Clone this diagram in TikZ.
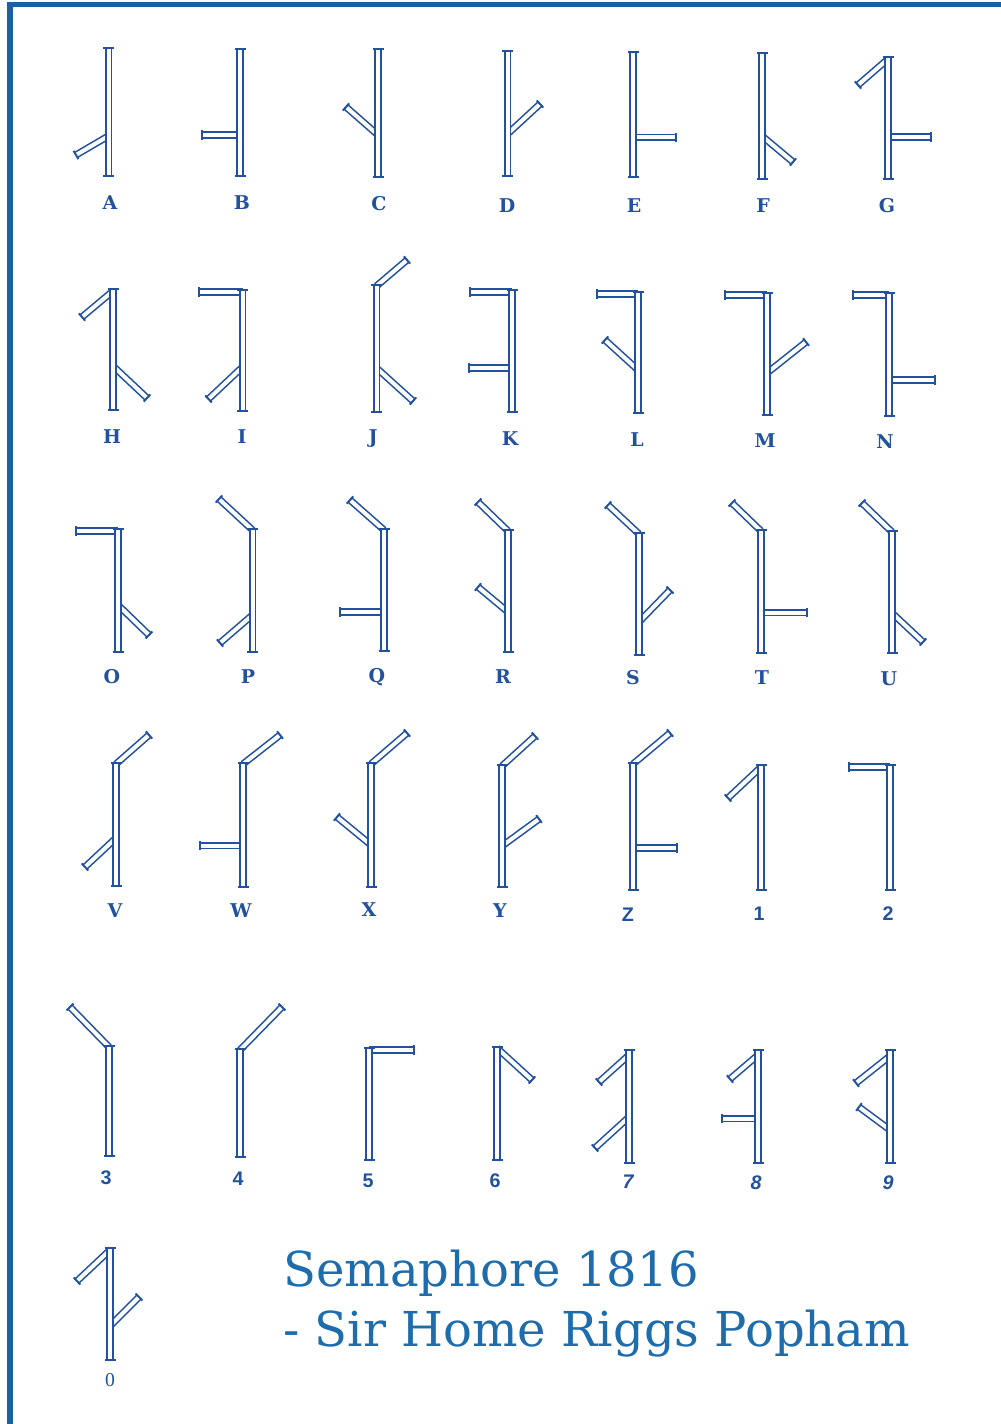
\documentclass[tikz,border=0pt]{standalone}
\usepackage{fontspec}
\setmainfont{DejaVu Serif}
\newfontfamily\digitfont{Liberation Sans}
\newfontfamily\zerofont{Liberation Serif}
\usetikzlibrary{calc}
\definecolor{ink}{RGB}{34,82,158}
\definecolor{titleblue}{RGB}{30,108,172}
\definecolor{framecol}{RGB}{28,96,160}
\tikzset{
  armline/.style={draw=ink, line width=0.04cm, double=white, double distance=0.1cm},
  armtick/.style={draw=ink, line width=0.05cm},
  lbl/.style={text=ink, font=\fontsize{13.5}{15}\selectfont\bfseries, inner sep=0pt},
  numlbl/.style={text=ink, font=\digitfont\fontsize{14}{16}\selectfont\bfseries, inner sep=0pt},
  itlbl/.style={text=ink, font=\digitfont\fontsize{14}{16}\selectfont\bfseries\itshape, inner sep=0pt},
  zerolbl/.style={text=ink, font=\zerofont\fontsize{14}{16}\selectfont, inner sep=0pt},
  titletext/.style={text=titleblue, font=\fontsize{34.2}{40}\selectfont, inner sep=0pt, anchor=base west},
}
\newcommand\semarm[2]{\draw[armline] #1 -- #2; \draw[armtick] ($#2!0.12cm!90:#1$) -- ($#2!0.12cm!-90:#1$);}
\newcommand\semmast[3]{\draw[armline] (#1,#3) -- (#1,#2); \draw[armtick] ({#1-5.5},#2) -- ({#1+5.5},#2); \draw[armtick] ({#1-5.5},#3) -- ({#1+5.5},#3);}
\begin{document}
\begin{tikzpicture}[x=0.025cm,y=-0.025cm]
\useasboundingbox (0,0) rectangle (1000,1424);
\fill[white] (0,0) rectangle (1000,1424);
\draw[framecol, line width=0.14cm, line cap=rect] (10,1424) -- (10,4.5) -- (1000,4.5);
% ---- Row 1 ----
\semarm{(108.5,136)}{(76,155)} \semmast{108.5}{48}{176} \node[lbl] (lA) at (110,203) {A};
\semarm{(240,135)}{(202,135)} \semmast{240}{49}{176} \node[lbl] (lB) at (242,203) {B};
\semarm{(378,135)}{(346,107)} \semmast{378}{49}{177} \node[lbl] (lC) at (379,204) {C};
\semarm{(507.5,134)}{(540,104)} \semmast{507.5}{51}{176} \node[lbl] (lD) at (507,206) {D};
\semarm{(633,137.5)}{(676,137.5)} \semmast{633}{52}{177} \node[lbl] (lE) at (634,206) {E};
\semarm{(762,136)}{(793,162)} \semmast{762}{53}{179} \node[lbl] (lF) at (763,206) {F};
\semarm{(888,59)}{(858,85)} \semarm{(888,137)}{(931,137)} \semmast{888}{57}{179} \node[lbl] (lG) at (887,206) {G};
% ---- Row 2 ----
\semarm{(113,291)}{(82,317)} \semarm{(113,366)}{(147,398)} \semmast{113}{289}{410} \node[lbl] (lH) at (112,437) {H};
\semarm{(242.5,292)}{(199,292)} \semarm{(242.5,367)}{(208.5,399)} \semmast{242.5}{290}{411} \node[lbl] (lI) at (242,437) {I};
\semarm{(376.5,286)}{(407,260)} \semarm{(376.5,368)}{(413,401)} \semmast{376.5}{285}{412} \node[lbl] (lJ) at (373,439) {J};
\semarm{(512,292)}{(470,292)} \semarm{(512,368)}{(469,368)} \semmast{512}{290}{412} \node[lbl] (lK) at (510,439) {K};
\semarm{(638,294)}{(597,294)} \semarm{(638,370)}{(605,340)} \semmast{638}{292}{413} \node[lbl] (lL) at (637,440) {L};
\semarm{(767,295)}{(725,295)} \semarm{(767,373)}{(806,342)} \semmast{767}{293}{415} \node[lbl] (lM) at (765,441) {M};
\semarm{(889,295)}{(853,295)} \semarm{(889,380)}{(935,380)} \semmast{889}{293}{416} \node[lbl] (lN) at (885,442) {N};
% ---- Row 3 ----
\semarm{(118,531)}{(76,531)} \semarm{(118,605)}{(149,635)} \semmast{118}{529}{652} \node[lbl] (lO) at (112,677) {O};
\semarm{(252.5,530)}{(219,499)} \semarm{(252.5,615)}{(220,643)} \semmast{252.5}{529}{652} \node[lbl] (lP) at (248,677) {P};
\semarm{(384,530)}{(350,500)} \semarm{(384,612)}{(340,612)} \semmast{384}{529}{651} \node[lbl] (lQ) at (377,677) {Q};
\semarm{(508,531)}{(478,502)} \semarm{(508,612)}{(478,587)} \semmast{508}{530}{652} \node[lbl] (lR) at (503,677) {R};
\semarm{(639,534)}{(608,505)} \semarm{(639,622)}{(670,590)} \semmast{639}{533}{655} \node[lbl] (lS) at (633,678) {S};
\semarm{(761,531)}{(732,503)} \semarm{(761,612.5)}{(807,612.5)} \semmast{761}{530}{653} \node[lbl] (lT) at (762,678) {T};
\semarm{(892,532)}{(862,503)} \semarm{(892,613)}{(923,642)} \semmast{892}{531}{653} \node[lbl] (lU) at (889,679) {U};
% ---- Row 4 ----
\semarm{(116,764)}{(149,735)} \semarm{(116,838)}{(85,867)} \semmast{116}{763}{886} \node[lbl] (lV) at (115,911) {V};
\semarm{(243,764)}{(280,735)} \semarm{(243,845.5)}{(200,845.5)} \semmast{243}{763}{887} \node[lbl] (lW) at (241,911) {W};
\semarm{(371,764)}{(407,733)} \semarm{(371,845)}{(337,817)} \semmast{371}{763}{887} \node[lbl] (lX) at (369,910) {X};
\semarm{(502,766)}{(535,736)} \semarm{(502,846)}{(539,819)} \semmast{502}{765}{887} \node[lbl] (lY) at (500,911) {Y};
\semarm{(633,764)}{(670,733)} \semarm{(633,848)}{(677,848)} \semmast{633}{763}{890} \node[numlbl] (lZ) at (628,915) {Z};
\semarm{(761,767)}{(728,798)} \semmast{761}{765}{890} \node[numlbl] (l1) at (759,914) {1};
\semarm{(890,767)}{(849,767)} \semmast{890}{765}{890} \node[numlbl] (l2) at (888,914) {2};
% ---- Row 5 ----
\semarm{(109,1047)}{(70,1007)} \semmast{109}{1046}{1156} \node[numlbl] (l3) at (106,1178) {3};
\semarm{(240,1050)}{(282,1007)} \semmast{240}{1049}{1157} \node[numlbl] (l4) at (238,1179) {4};
\semarm{(369,1050)}{(414,1050)} \semmast{369}{1048}{1160} \node[numlbl] (l5) at (368,1181) {5};
\semarm{(497,1048)}{(532,1080)} \semmast{497}{1047}{1160} \node[numlbl] (l6) at (495,1181) {6};
\semarm{(629,1055)}{(599,1082)} \semarm{(629,1117)}{(595,1148)} \semmast{629}{1050}{1163} \node[itlbl] (l7) at (628,1182) {7};
\semarm{(758,1055)}{(730,1079)} \semarm{(758,1118.5)}{(722,1118.5)} \semmast{758}{1050}{1163} \node[itlbl] (l8) at (756,1183) {8};
\semarm{(890,1056)}{(856,1083)} \semarm{(890,1130)}{(859,1107)} \semmast{890}{1050}{1163} \node[itlbl] (l9) at (888,1183) {9};
% ---- Row 6 ----
\semarm{(110,1250)}{(77,1281)} \semarm{(110,1326)}{(139,1297)} \semmast{110}{1248}{1360} \node[zerolbl] (l0) at (110,1380) {0};
\node[titletext] (title1) at (283,1286) {Semaphore 1816};
\node[titletext] (title2) at (283,1346) {- Sir Home Riggs Popham};
\end{tikzpicture}
\end{document}
